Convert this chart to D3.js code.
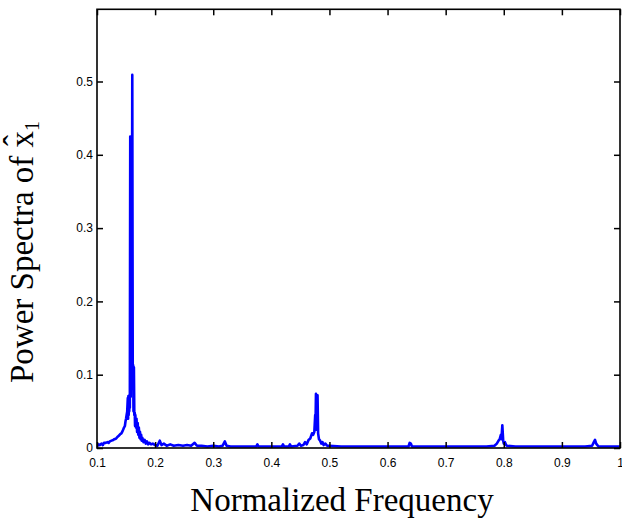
<!DOCTYPE html>
<html>
<head>
<meta charset="utf-8">
<script src="https://cdn.jsdelivr.net/npm/d3@7"></script>
<style>
  html, body { margin: 0; padding: 0; background: #fff; }
  svg { display: block; }
</style>
</head>
<body>
<div id="chart"></div>
<script>
/* --- data --------------------------------------------------------------- */
const freq = [
  0.100, 0.101, 0.103, 0.105, 0.108, 0.110, 0.112, 0.115, 0.118, 0.120,
  0.122, 0.125, 0.128, 0.130, 0.133, 0.135, 0.138, 0.140, 0.142, 0.144,
  0.146, 0.148, 0.149, 0.150, 0.151, 0.152, 0.153, 0.1535, 0.154, 0.1545,
  0.155, 0.1555, 0.156, 0.1565, 0.1572, 0.1580, 0.1588, 0.1598, 0.1607, 0.1615,
  0.1622, 0.1628, 0.1635, 0.1642, 0.165, 0.1655, 0.166, 0.167, 0.168, 0.169,
  0.170, 0.171, 0.172, 0.173, 0.174, 0.175, 0.176, 0.177, 0.178, 0.180,
  0.182, 0.184, 0.186, 0.188, 0.190, 0.193, 0.196, 0.200, 0.204, 0.208,
  0.211, 0.215, 0.220, 0.226, 0.232, 0.240, 0.248, 0.255, 0.262, 0.268,
  0.272, 0.280, 0.290, 0.300, 0.310, 0.316, 0.320, 0.323, 0.330, 0.345,
  0.360, 0.374, 0.376, 0.378, 0.395, 0.410, 0.418, 0.420, 0.422, 0.430,
  0.432, 0.434, 0.445, 0.448, 0.451, 0.455, 0.458, 0.461, 0.464, 0.467,
  0.470, 0.472, 0.474, 0.4755, 0.4760, 0.4768, 0.4775, 0.4785, 0.4795, 0.4805,
  0.482, 0.484, 0.486, 0.488, 0.490, 0.493, 0.496, 0.500, 0.520, 0.550,
  0.580, 0.600, 0.620, 0.636, 0.638, 0.640, 0.642, 0.660, 0.700, 0.740,
  0.770, 0.784, 0.788, 0.791, 0.793, 0.795, 0.796, 0.7975, 0.799, 0.800,
  0.802, 0.804, 0.806, 0.820, 0.860, 0.900, 0.940, 0.952, 0.955, 0.957,
  0.959, 0.961, 0.963, 0.980, 1.000
];
const power = [
  0.006, 0.003, 0.005, 0.004, 0.006, 0.004, 0.007, 0.007, 0.008, 0.007,
  0.009, 0.010, 0.011, 0.012, 0.013, 0.015, 0.017, 0.019, 0.020, 0.023,
  0.027, 0.030, 0.036, 0.040, 0.045, 0.050, 0.068, 0.040, 0.071, 0.045,
  0.070, 0.050, 0.072, 0.055, 0.425, 0.070, 0.424, 0.090, 0.509, 0.100,
  0.113, 0.050, 0.110, 0.045, 0.048, 0.030, 0.045, 0.028, 0.040, 0.022,
  0.034, 0.018, 0.028, 0.014, 0.022, 0.012, 0.018, 0.010, 0.014, 0.008,
  0.011, 0.006, 0.009, 0.005, 0.007, 0.005, 0.006, 0.004, 0.003, 0.010,
  0.004, 0.006, 0.003, 0.005, 0.003, 0.004, 0.003, 0.004, 0.003, 0.007,
  0.003, 0.003, 0.002, 0.003, 0.002, 0.003, 0.009, 0.003, 0.002, 0.002,
  0.002, 0.002, 0.005, 0.002, 0.002, 0.002, 0.002, 0.005, 0.002, 0.002,
  0.005, 0.002, 0.003, 0.006, 0.003, 0.004, 0.008, 0.005, 0.011, 0.013,
  0.020, 0.018, 0.022, 0.045, 0.030, 0.074, 0.025, 0.040, 0.072, 0.020,
  0.012, 0.010, 0.006, 0.008, 0.004, 0.006, 0.003, 0.003, 0.002, 0.002,
  0.002, 0.002, 0.002, 0.002, 0.007, 0.006, 0.002, 0.002, 0.002, 0.002,
  0.002, 0.003, 0.006, 0.010, 0.012, 0.018, 0.012, 0.031, 0.010, 0.006,
  0.008, 0.004, 0.003, 0.002, 0.002, 0.002, 0.002, 0.003, 0.008, 0.011,
  0.006, 0.004, 0.002, 0.002, 0.002
];
const xTicks = [0.1, 0.2, 0.3, 0.4, 0.5, 0.6, 0.7, 0.8, 0.9, 1];
const yTicks = [0, 0.1, 0.2, 0.3, 0.4, 0.5];

/* --- layout --------------------------------------------------------------- */
const W = 622, H = 524;
const box = { left: 97, right: 620, top: 9.3, bottom: 448 };
const tickLen = 6;

const svg = d3.select("#chart").append("svg")
  .attr("width", W).attr("height", H);

const x = d3.scaleLinear().domain([0.1, 1]).range([box.left, box.right]);
const y = d3.scaleLinear().domain([0, 0.5985]).range([box.bottom, box.top]);

/* --- spectrum line -------------------------------------------------------- */
svg.append("clipPath").attr("id", "clip")
  .append("rect")
    .attr("x", box.left).attr("y", box.top)
    .attr("width", box.right - box.left).attr("height", box.bottom - box.top);

const pts = freq.map((f, i) => [f, power[i]]);
svg.append("path")
  .datum(pts)
  .attr("clip-path", "url(#clip)")
  .attr("fill", "none")
  .attr("stroke", "#0000ff")
  .attr("stroke-width", 2.6)
  .attr("stroke-linejoin", "round")
  .attr("d", d3.line().x(d => x(d[0])).y(d => y(d[1])));

/* --- axes box with inward ticks (matlab style) ---------------------------- */
const tickStyle = g => g.call(g => g.select(".domain").remove())
  .call(g => g.selectAll("line").attr("stroke", "#000").attr("stroke-width", 1.5))
  .call(g => g.selectAll("text").attr("fill", "#000")
    .style("font-family", "Arial, 'Liberation Sans', sans-serif")
    .style("font-size", "12px"));

svg.append("g").attr("transform", `translate(0,${box.bottom})`)
  .call(d3.axisBottom(x).tickValues(xTicks).tickSize(-tickLen).tickPadding(10)
    .tickFormat(d => d === 1 ? "1" : d3.format(".1f")(d)))
  .call(tickStyle);

svg.append("g").attr("transform", `translate(0,${box.top})`)
  .call(d3.axisTop(x).tickValues(xTicks).tickSize(-tickLen).tickFormat(""))
  .call(tickStyle);

svg.append("g").attr("transform", `translate(${box.left},0)`)
  .call(d3.axisLeft(y).tickValues(yTicks).tickSize(-tickLen).tickPadding(4)
    .tickFormat(d => d === 0 ? "0" : d3.format(".1f")(d)))
  .call(tickStyle);

svg.append("g").attr("transform", `translate(${box.right},0)`)
  .call(d3.axisRight(y).tickValues(yTicks).tickSize(-tickLen).tickFormat(""))
  .call(tickStyle);

svg.append("rect")
  .attr("x", box.left).attr("y", box.top)
  .attr("width", box.right - box.left).attr("height", box.bottom - box.top)
  .attr("fill", "none").attr("stroke", "#000").attr("stroke-width", 1.6);

/* --- titles --------------------------------------------------------------- */
const serif = "'Times New Roman', 'Liberation Serif', serif";

svg.append("text")
  .attr("x", 342).attr("y", 511)
  .attr("text-anchor", "middle")
  .style("font-family", serif).style("font-size", "33px")
  .text("Normalized Frequency");

const yt = svg.append("text")
  .attr("transform", "translate(33,383) rotate(-90)")
  .style("font-family", serif).style("font-size", "33px");
yt.append("tspan").text("Power Spectra of ");
yt.append("tspan").text("x");
yt.append("tspan").attr("dx", -15).attr("dy", -6).text("\u02C6");
yt.append("tspan").attr("dy", 12).attr("dx", 4).style("font-size", "20px").text("1");
</script>
</body>
</html>
